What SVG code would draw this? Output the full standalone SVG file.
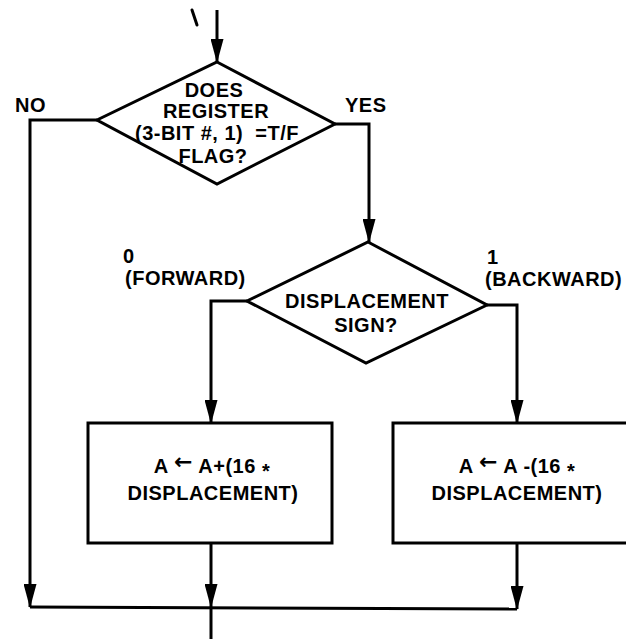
<svg xmlns="http://www.w3.org/2000/svg" width="626" height="639" viewBox="0 0 626 639">
  <style>
    .shape { fill: #fff; stroke: #000; stroke-width: 3; stroke-linejoin: miter; }
    .conn { fill: none; stroke: #000; stroke-width: 3; }
    .t { font-family: "Liberation Sans", Arial, sans-serif; font-weight: bold; font-size: 20px; fill: #000; letter-spacing: 0.5px; }
    .c { text-anchor: middle; }
    .arr { font-family: "DejaVu Sans", sans-serif; font-weight: bold; font-size: 22px; }
  </style>
  <defs>
    <marker id="ah" markerUnits="userSpaceOnUse" markerWidth="24" markerHeight="13" viewBox="0 0 24 13" refX="23" refY="6.5" orient="auto">
      <path d="M0,0 L24,6.5 L0,13 z" fill="#000"/>
    </marker>
  </defs>
  <rect width="626" height="639" fill="#fff"/>

  <g id="connectors">
    <path class="conn" d="M217,10 L217,62" marker-end="url(#ah)"/>
    <path class="conn" d="M97,120 L30,120 L30,607" marker-end="url(#ah)"/>
    <path class="conn" d="M335,124 L369,124 L369,242" marker-end="url(#ah)"/>
    <path class="conn" d="M247,301 L211,301 L211,423" marker-end="url(#ah)"/>
    <path class="conn" d="M487,305 L517,305 L517,423" marker-end="url(#ah)"/>
    <path class="conn" d="M211,543 L211,607" marker-end="url(#ah)"/>
    <path class="conn" d="M517,543 L517,609" marker-end="url(#ah)"/>
    <path class="conn" d="M30,607 L517,609"/>
    <path class="conn" d="M211,607 L211,639"/>
    <path class="conn" d="M192,10 L197,25" stroke-linecap="round"/>
    <text class="t" x="15" y="112">NO</text>
    <text class="t" x="345" y="112">YES</text>
    <text class="t" x="123" y="263">0</text>
    <text class="t" x="125" y="285">(FORWARD)</text>
    <text class="t" x="487" y="264">1</text>
    <text class="t" x="485" y="286">(BACKWARD)</text>
  </g>

  <g id="decision-register">
    <polygon class="shape" points="217,62 335,124 217,184 97,120"/>
    <text class="t c" x="214" y="97" letter-spacing="1.5">DOES</text>
    <text class="t c" x="216" y="118">REGISTER</text>
    <text class="t c" x="217" y="140" xml:space="preserve">(3-BIT #, 1)  =T/F</text>
    <text class="t c" x="213" y="163">FLAG?</text>
  </g>

  <g id="decision-sign">
    <polygon class="shape" points="368,242 487,305 366,363 247,301"/>
    <text class="t c" x="367" y="308">DISPLACEMENT</text>
    <text class="t c" x="366" y="332">SIGN?</text>
  </g>

  <g id="box-forward">
    <rect class="shape" x="88" y="423" width="244" height="120"/>
    <text class="t c" x="212" y="473">A <tspan class="arr" dy="-4">←</tspan><tspan dy="4"> A+(16 </tspan><tspan dy="5">*</tspan></text>
    <text class="t c" x="213" y="500">DISPLACEMENT)</text>
  </g>

  <g id="box-backward">
    <rect class="shape" x="393" y="423" width="240" height="120"/>
    <text class="t c" x="517" y="473">A <tspan class="arr" dy="-4">←</tspan><tspan dy="4"> A -(16 </tspan><tspan dy="5">*</tspan></text>
    <text class="t c" x="517" y="500">DISPLACEMENT)</text>
  </g>
</svg>
